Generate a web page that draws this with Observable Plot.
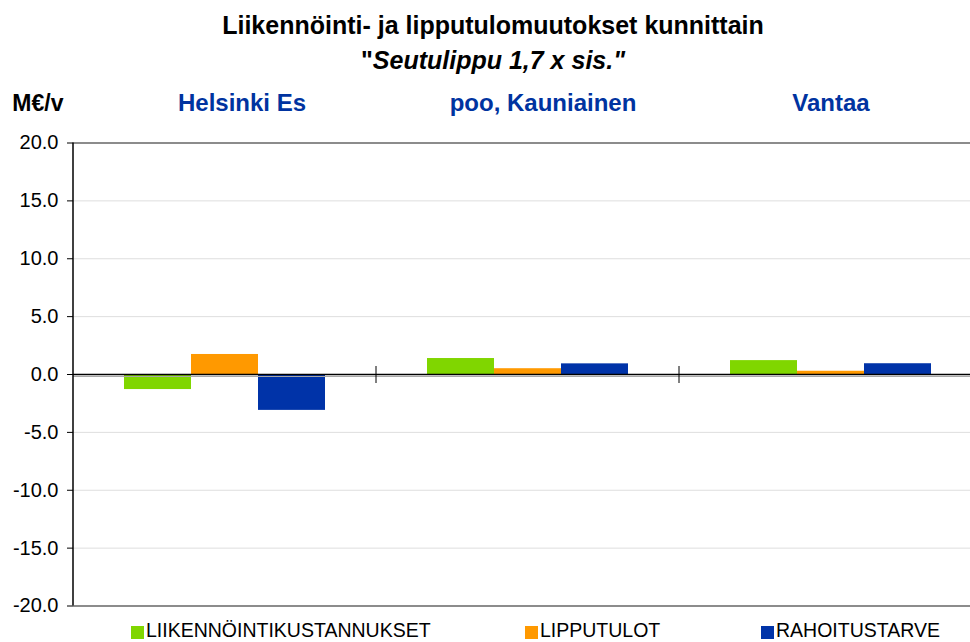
<!DOCTYPE html>
<html><head><meta charset="utf-8">
<script src="https://cdn.jsdelivr.net/npm/d3@7"></script>
<script src="https://cdn.jsdelivr.net/npm/@observablehq/plot@0.6"></script>
<style>
body{margin:0;overflow:hidden;background:#fff;font-family:"Liberation Sans",Arial,sans-serif;}
#wrap{position:relative;width:970px;height:642px;overflow:hidden;background:#fff;}
.t{position:absolute;left:0;width:986px;text-align:center;font-weight:bold;font-size:25px;line-height:30px;color:#000;white-space:nowrap;}
#chart{position:absolute;left:0;top:80px;}
.li{position:absolute;top:619px;display:flex;align-items:flex-start;font-size:19.5px;line-height:22px;color:#000;white-space:nowrap;}
.sw{width:13px;height:13px;margin-right:2px;margin-top:7px;}
</style></head>
<body>
<div id="wrap">
  <div class="t" id="title1" style="top:10px"></div>
  <div class="t" id="title2" style="top:45px"></div>
  <div id="chart"></div>
  <div id="legend"></div>
</div>
<script>
const titleText = "Liikennöinti- ja lipputulomuutokset kunnittain";
const subtitleText = "Seutulippu 1,7 x sis.";
const yLabel = "M€/v";
const cats = ["Helsinki", "Espoo, Kauniainen", "Vantaa"];
const groupLabels = ["Helsinki Es", "poo, Kauniainen", "Vantaa"];
const series = ["LIIKENNÖINTIKUSTANNUKSET", "LIPPUTULOT", "RAHOITUSTARVE"];
const colors = ["#80d600", "#ff9900", "#0033a8"];
const liikennointi = [-1.3, 1.38, 1.2];
const lipputulot = [1.73, 0.5, 0.28];
const rahoitustarve = [-3.1, 0.92, 0.93];
const yTicks = [20, 15, 10, 5, 0, -5, -10, -15, -20];

const values = [liikennointi, lipputulot, rahoitustarve];
const data = cats.flatMap((c, i) => series.map((s, j) => ({cat: c, series: s, value: values[j][i]})));

document.getElementById("title1").textContent = titleText;
document.getElementById("title2").innerHTML = '"<i>' + subtitleText + '"</i>';

const labelStyle = {fx: "cat", text: "label", frameAnchor: "top", dy: -39.5, lineAnchor: "middle",
  fill: "#0033a0", fontWeight: "bold", fontSize: 24};

const chart = Plot.plot({
  width: 970, height: 545,
  marginLeft: 72, marginRight: 0, marginTop: 62.5, marginBottom: 19.5,
  style: {fontFamily: "Liberation Sans, Arial, sans-serif", fontSize: "20px", overflow: "hidden", background: "#fff", color: "#000"},
  fx: {domain: cats, range: [72, 982.5], padding: 0, axis: null},
  x: {domain: series, paddingInner: 0, paddingOuter: 0.75, axis: null},
  y: {domain: [-20, 20], axis: null},
  color: {domain: series, range: colors},
  marks: [
    Plot.ruleY(yTicks.filter(t => Math.abs(t) !== 20 && t !== 0), {stroke: "#dedede", strokeWidth: 1}),
    Plot.ruleY([20, -20], {stroke: "#8c8c8c", strokeWidth: 2}),
    Plot.barY(data, {fx: "cat", x: "series", y: "value", fill: "series"}),
    Plot.ruleY([0], {stroke: "#a8a8a8", strokeWidth: 1, dy: 2}),
    Plot.ruleY([0], {stroke: "#000", strokeWidth: 1.5}),
    Plot.axisY({ticks: yTicks, tickFormat: d => d.toFixed(1), tickSize: 6, tickPadding: 9, color: "#000", fontSize: 20, label: null}),
    Plot.text([{cat: cats[0], label: yLabel}], {fx: "cat", text: "label", frameAnchor: "top-left", dx: -10, dy: -39.5,
      textAnchor: "end", lineAnchor: "middle", fill: "#000", fontWeight: "bold", fontSize: 23}),
    Plot.text([{cat: cats[0], label: groupLabels[0]}], {...labelStyle, dx: 17}),
    Plot.text([{cat: cats[1], label: groupLabels[1]}], {...labelStyle, dx: 15}),
    Plot.text([{cat: cats[2], label: groupLabels[2]}], {...labelStyle, dx: 0})
  ]
});
document.getElementById("chart").appendChild(chart);

// axis line and category separator ticks, positioned through Plot's own scales
const fxS = chart.scale("fx"), yS = chart.scale("y");
const svg = d3.select(chart);
const y0 = yS.apply(0);
const gAxis = svg.append("g");
gAxis.append("line")
  .attr("x1", fxS.apply(cats[0])).attr("x2", fxS.apply(cats[0]))
  .attr("y1", yS.apply(20)).attr("y2", yS.apply(-20))
  .attr("stroke", "#000").attr("stroke-width", 1.5);
cats.slice(1).forEach(c => {
  const xc = fxS.apply(c);
  gAxis.append("line")
    .attr("x1", xc).attr("x2", xc).attr("y1", y0 - 8).attr("y2", y0 + 9)
    .attr("stroke", "#000").attr("stroke-width", 1);
});

const legendLeft = [131, 525, 761];
const legend = document.getElementById("legend");
series.forEach((s, i) => {
  const item = document.createElement("div");
  item.className = "li";
  item.style.left = legendLeft[i] + "px";
  item.innerHTML = '<span class="sw" style="background:' + colors[i] + '"></span><span>' + s + '</span>';
  legend.appendChild(item);
});
</script>
</body></html>
